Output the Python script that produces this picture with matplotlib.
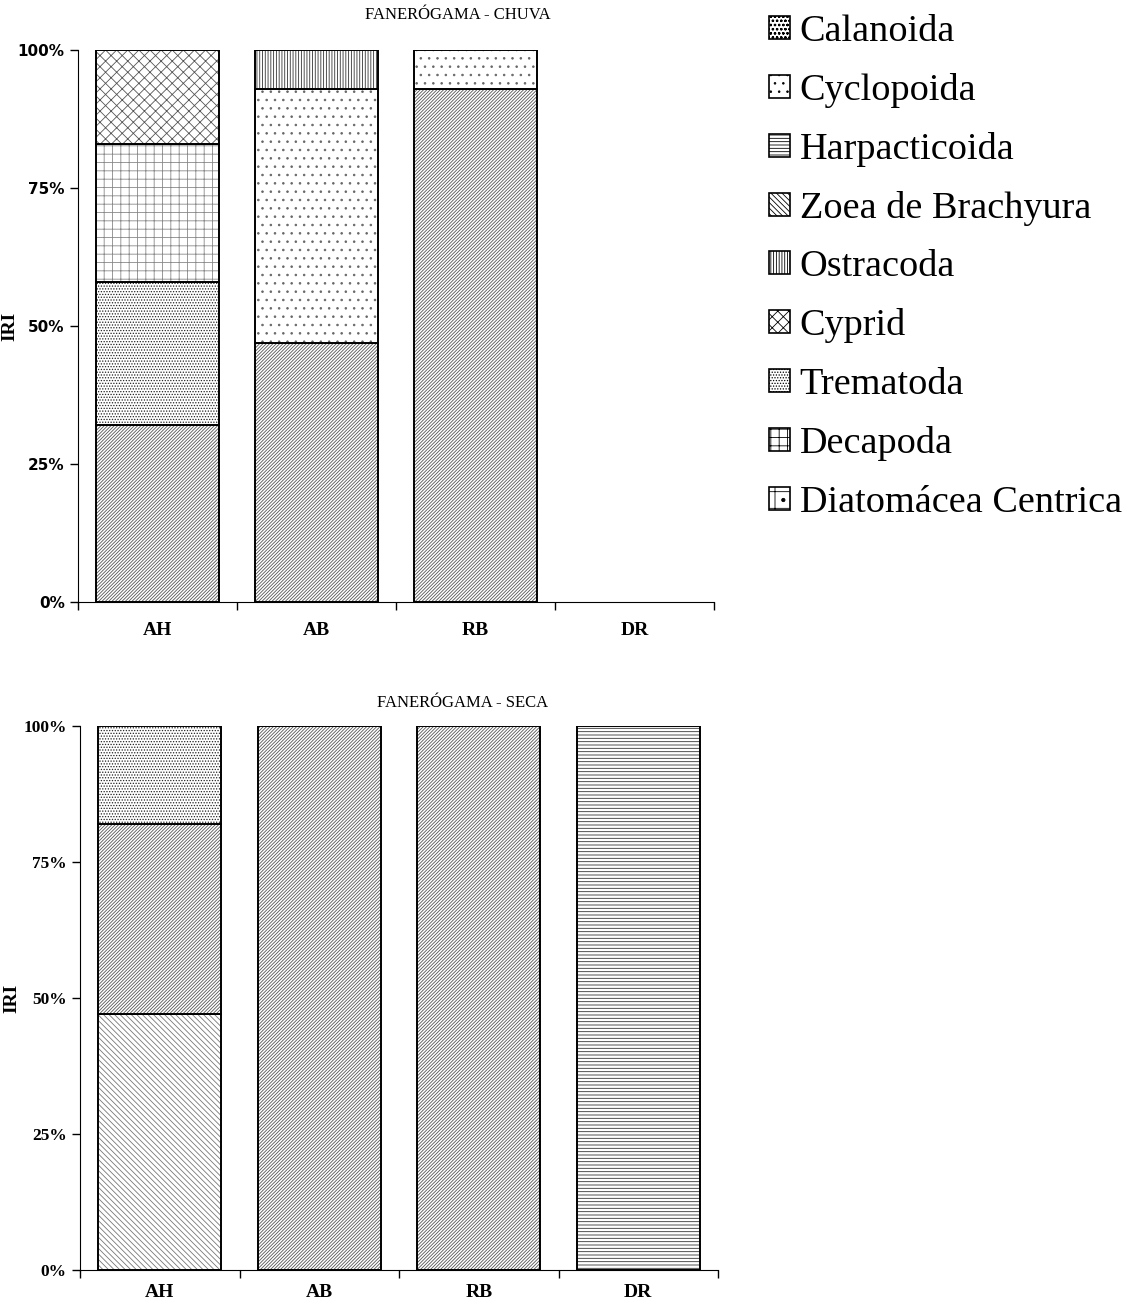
#!/usr/bin/env python3

# IRI por ponto de coleta - fanerogama, chuva e seca
import matplotlib.pyplot as plt
from matplotlib.patches import Patch

plt.rcParams['hatch.linewidth'] = 0.6

# pontos de coleta
sites = ['AH', 'AB', 'RB', 'DR']

# itens alimentares (IRI %, de baixo para cima em cada barra)
items = ['Outros', 'Zoea de Brachyura', 'Trematoda', 'Decapoda', 'Cyprid',
         'Cyclopoida', 'Ostracoda', 'Harpacticoida']

chuva = {
    'Outros':            [32, 47, 93, 0],
    'Zoea de Brachyura': [0, 0, 0, 0],
    'Trematoda':         [26, 0, 0, 0],
    'Decapoda':          [25, 0, 0, 0],
    'Cyprid':            [17, 0, 0, 0],
    'Cyclopoida':        [0, 46, 7, 0],
    'Ostracoda':         [0, 7, 0, 0],
    'Harpacticoida':     [0, 0, 0, 0],
}

seca = {
    'Zoea de Brachyura': [47, 0, 0, 0],
    'Outros':            [35, 100, 100, 0],
    'Trematoda':         [18, 0, 0, 0],
    'Decapoda':          [0, 0, 0, 0],
    'Cyprid':            [0, 0, 0, 0],
    'Cyclopoida':        [0, 0, 0, 0],
    'Ostracoda':         [0, 0, 0, 0],
    'Harpacticoida':     [0, 0, 0, 100],
}
seca_order = ['Zoea de Brachyura', 'Outros', 'Trematoda', 'Decapoda',
              'Cyprid', 'Cyclopoida', 'Ostracoda', 'Harpacticoida']

legend_items = ['Calanoida', 'Cyclopoida', 'Harpacticoida', 'Zoea de Brachyura',
                'Ostracoda', 'Cyprid', 'Trematoda', 'Decapoda',
                'Diatomácea Centrica']

hatches = {
    'Outros': '//////////',
    'Zoea de Brachyura': '\\\\\\\\\\\\',
    'Trematoda': '......',
    'Decapoda': '++',
    'Cyprid': 'xxx',
    'Cyclopoida': '..',
    'Ostracoda': '||||||',
    'Harpacticoida': '-----',
    'Calanoida': 'oooo',
    'Diatomácea Centrica': '+.',
}
hatch_color = {
    'Outros': '#555555',
    'Zoea de Brachyura': '#777777',
    'Trematoda': '#222222',
    'Decapoda': '#888888',
    'Cyprid': '#555555',
    'Cyclopoida': '#666666',
    'Ostracoda': '#333333',
    'Harpacticoida': '#333333',
}


def draw(ax, data, order, title, title_x, title_gap, tickfont, ticksize, lab_y):
    bottom = [0] * len(sites)
    for name in order:
        vals = data[name]
        x = [i for i, v in enumerate(vals) if v > 0]
        h = [v for v in vals if v > 0]
        b = [bottom[i] for i in x]
        if h:
            ax.bar(x, h, width=0.77, bottom=b, color='white',
                   edgecolor=hatch_color[name], hatch=hatches[name], linewidth=0)
            ax.bar(x, h, width=0.77, bottom=b, fill=False,
                   edgecolor='black', linewidth=1.4)
        bottom = [s + v for s, v in zip(bottom, vals)]
    ax.set_xlim(-0.5, len(sites) - 0.5)
    ax.set_ylim(0, 100)
    ax.set_yticks([0, 25, 50, 75, 100])
    ax.set_yticklabels(['0%', '25%', '50%', '75%', '100%'],
                       fontweight='bold', fontsize=ticksize, family=tickfont)
    ax.set_xticks([i - 0.5 for i in range(len(sites) + 1)])
    ax.set_xticklabels([])
    ax.tick_params(axis='both', direction='out', length=6, width=1)
    for i, s in enumerate(sites):
        ax.text(i, lab_y, s, ha='center', va='top', fontsize=14,
                fontweight='bold', family='Liberation Serif')
    for side in ['top', 'right']:
        ax.spines[side].set_visible(False)
    ax.set_ylabel('IRI', fontsize=14, fontweight='bold',
                  family='Liberation Serif')
    ax.yaxis.set_label_coords(-0.094, 0.5)
    ax.figure.text(title_x, ax.get_position().y1 + title_gap / 1309, title,
                   ha='center', va='center', fontsize=12,
                   family='Liberation Serif')


fig = plt.figure(figsize=(11.35, 13.09), dpi=100)
ax1 = fig.add_axes([78 / 1135, 1 - 602 / 1309, 636 / 1135, 552 / 1309])
ax2 = fig.add_axes([80 / 1135, 1 - 1270 / 1309, 638 / 1135, 544 / 1309])

draw(ax1, chuva, items, 'FANERÓGAMA - CHUVA', 458 / 1135, 35,
     'DejaVu Sans', 11, -3.7)
draw(ax2, seca, seca_order, 'FANERÓGAMA - SECA', 463 / 1135, 23,
     'Liberation Serif', 12.5, -2.6)

handles = [Patch(facecolor='white', edgecolor='black',
                 hatch=hatches.get(n, ''), linewidth=1.2) for n in legend_items]
fig.legend(handles, legend_items, loc='upper left',
           bbox_to_anchor=(750 / 1135, 1 + 5 / 1309), frameon=False,
           prop={'family': 'Liberation Serif', 'size': 27.5},
           handlelength=0.55, handleheight=0.55, handletextpad=0.25,
           labelspacing=0.63, borderpad=0)

fig.savefig('out.png', dpi=100)
